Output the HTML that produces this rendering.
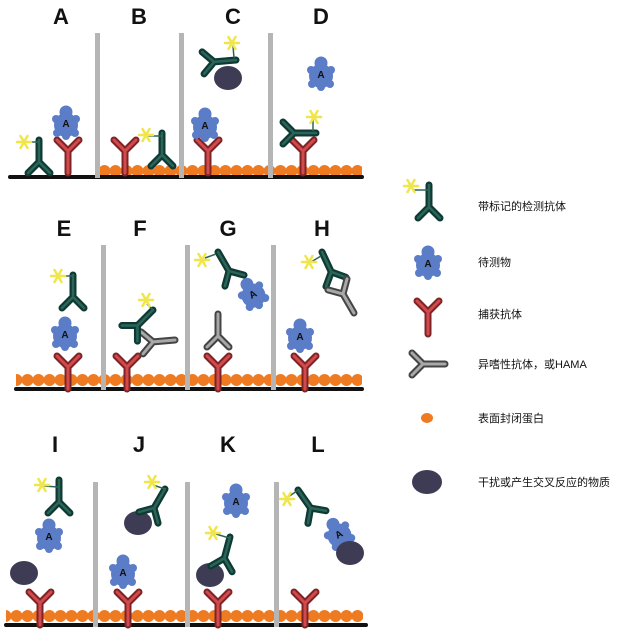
<!DOCTYPE html>
<html><head><meta charset="utf-8"><style>
html,body{margin:0;padding:0;background:#fff}
svg{display:block}
.lt{font-family:"Liberation Sans",sans-serif;font-weight:bold;font-size:22px;fill:#111;text-anchor:middle}
.aa{font-family:"Liberation Sans",sans-serif;font-weight:bold;font-size:10px;fill:#111;text-anchor:middle}
.lg{font-family:"Liberation Sans","Noto Sans CJK SC",sans-serif;font-size:11px;fill:#111}
</style></head><body>
<svg width="637" height="636" viewBox="0 0 637 636" xmlns="http://www.w3.org/2000/svg">
<defs>
<pattern id="bd1" x="0" y="165" width="11" height="12" patternUnits="userSpaceOnUse"><circle cx="5.5" cy="6" r="6" fill="#ee7a22"/></pattern>
<pattern id="bd2" x="0" y="374" width="11" height="12" patternUnits="userSpaceOnUse"><circle cx="5.5" cy="6" r="6" fill="#ee7a22"/></pattern>
<pattern id="bd3" x="0" y="610" width="11" height="12" patternUnits="userSpaceOnUse"><circle cx="5.5" cy="6" r="6" fill="#ee7a22"/></pattern>
<g id="yr"><path d="M0 0V-22M0 -22L-11 -33M0 -22L11 -33" stroke="#7e2426" stroke-width="7" stroke-linecap="round" fill="none"/><path d="M0 0V-22M0 -22L-11 -33M0 -22L11 -33" stroke="#d24a4c" stroke-width="3" stroke-linecap="round" fill="none"/></g>
<g id="yg"><path d="M0 0V-22M0 -22L-11 -33M0 -22L11 -33" stroke="#0f3a33" stroke-width="7" stroke-linecap="round" fill="none"/><path d="M0 0V-22M0 -22L-11 -33M0 -22L11 -33" stroke="#2b6559" stroke-width="2.5" stroke-linecap="round" fill="none"/></g>
<g id="yy"><path d="M0 0V-22M0 -22L-11 -33M0 -22L11 -33" stroke="#444" stroke-width="7" stroke-linecap="round" fill="none"/><path d="M0 0V-22M0 -22L-11 -33M0 -22L11 -33" stroke="#a8a8a8" stroke-width="3" stroke-linecap="round" fill="none"/></g>
<g id="st" stroke="#f0e64a" stroke-width="2.5" stroke-linecap="round"><line x1="-7" y1="0" x2="7" y2="0"/><line x1="-3.5" y1="-6" x2="3.5" y2="6"/><line x1="-3.5" y1="6" x2="3.5" y2="-6"/></g>
<g id="an" fill="#5b7cc6"><circle cx="0" cy="-10" r="6.5"/><circle cx="0" cy="3" r="12"/><circle cx="-10" cy="-3" r="4"/><circle cx="10" cy="-3" r="4"/><circle cx="-9" cy="11" r="4"/><circle cx="9" cy="11" r="4"/><circle cx="0" cy="14" r="4"/></g>
</defs>

<!-- row 1 -->
<text class="lt" x="61" y="24">A</text><text class="lt" x="139" y="24">B</text><text class="lt" x="233" y="24">C</text><text class="lt" x="321" y="24">D</text>
<rect x="100" y="165" width="262" height="12" fill="url(#bd1)"/>
<rect x="8" y="175" width="356" height="4" rx="2" fill="#111"/>
<g fill="#b5b5b5"><rect x="95" y="33" width="5" height="145"/><rect x="179" y="33" width="5" height="145"/><rect x="268" y="33" width="5" height="145"/></g>
<use href="#yg" transform="translate(39,140) rotate(180)"/><line x1="25" y1="142" x2="39" y2="142" stroke="#2b6559" stroke-width="1.5"/><use href="#st" x="24" y="142"/>
<use href="#yr" transform="translate(68,173)"/>
<use href="#an" x="66" y="122"/><text class="aa" x="66" y="127">A</text>
<use href="#yr" transform="translate(125,173)"/>
<use href="#yg" transform="translate(162,133) rotate(180)"/><line x1="147" y1="136" x2="162" y2="136" stroke="#2b6559" stroke-width="1.5"/><use href="#st" x="146" y="135"/>
<use href="#yr" transform="translate(208,173)"/>
<use href="#an" x="205" y="124"/><text class="aa" x="205" y="129">A</text>
<ellipse cx="228" cy="78" rx="14" ry="12" fill="#3e3b55"/>
<use href="#yg" transform="translate(236,60) rotate(-95)"/><line x1="233" y1="46" x2="234" y2="58" stroke="#2b6559" stroke-width="1.5"/><use href="#st" x="232" y="43"/>
<use href="#an" x="321" y="73"/><text class="aa" x="321" y="78">A</text>
<use href="#yr" transform="translate(303,173)"/>
<use href="#yg" transform="translate(316,133) rotate(-90)"/><line x1="313" y1="118" x2="313" y2="131" stroke="#2b6559" stroke-width="1.5"/><use href="#st" x="314" y="117"/>

<!-- row 2 -->
<text class="lt" x="64" y="236">E</text><text class="lt" x="140" y="236">F</text><text class="lt" x="228" y="236">G</text><text class="lt" x="322" y="236">H</text>
<rect x="16" y="374" width="346" height="12" fill="url(#bd2)"/>
<rect x="14" y="387" width="350" height="4" rx="2" fill="#111"/>
<g fill="#b5b5b5"><rect x="101" y="245" width="5" height="145"/><rect x="185" y="245" width="5" height="145"/><rect x="271" y="245" width="5" height="145"/></g>
<use href="#yr" transform="translate(68,389)"/>
<use href="#an" x="65" y="333"/><text class="aa" x="65" y="338">A</text>
<use href="#yg" transform="translate(73,275) rotate(180)"/><line x1="59" y1="276" x2="73" y2="276" stroke="#2b6559" stroke-width="1.5"/><use href="#st" x="58" y="276"/>
<use href="#yr" transform="translate(127,389)"/>
<use href="#yy" transform="translate(175,340) rotate(-95)"/>
<use href="#yg" transform="translate(153,310) rotate(225)"/><line x1="147" y1="304" x2="153" y2="310" stroke="#2b6559" stroke-width="1.5"/><use href="#st" x="146" y="300"/>
<use href="#yr" transform="translate(218,389)"/>
<use href="#yy" transform="translate(218,314) rotate(180)"/>
<use href="#yg" transform="translate(218,252) rotate(150)"/><line x1="205" y1="258" x2="216" y2="254" stroke="#2b6559" stroke-width="1.5"/><use href="#st" x="202" y="260"/>
<g transform="translate(252,293) rotate(-30)"><use href="#an"/><text class="aa" x="0" y="5">A</text></g>
<use href="#yr" transform="translate(305,389)"/>
<use href="#an" x="300" y="335"/><text class="aa" x="300" y="340">A</text>
<use href="#yg" transform="translate(322,252) rotate(155)"/><line x1="311" y1="262" x2="321" y2="256" stroke="#2b6559" stroke-width="1.5"/><use href="#st" x="309" y="262"/>
<use href="#yy" transform="translate(354,313) rotate(-30)"/>

<!-- row 3 -->
<text class="lt" x="55" y="452">I</text><text class="lt" x="139" y="452">J</text><text class="lt" x="228" y="452">K</text><text class="lt" x="318" y="452">L</text>
<rect x="6" y="610" width="357" height="12" fill="url(#bd3)"/>
<rect x="4" y="623" width="364" height="4" rx="2" fill="#111"/>
<g fill="#b5b5b5"><rect x="93" y="482" width="5" height="145"/><rect x="185" y="482" width="5" height="145"/><rect x="274" y="482" width="5" height="145"/></g>
<use href="#yr" transform="translate(40,625)"/>
<ellipse cx="24" cy="573" rx="14" ry="12" fill="#3e3b55"/>
<use href="#an" x="49" y="535"/><text class="aa" x="49" y="540">A</text>
<use href="#yg" transform="translate(59,480) rotate(180)"/><line x1="44" y1="486" x2="58" y2="487" stroke="#2b6559" stroke-width="1.5"/><use href="#st" x="42" y="485"/>
<use href="#yr" transform="translate(128,625)"/>
<use href="#an" x="123" y="571"/><text class="aa" x="123" y="576">A</text>
<ellipse cx="138" cy="523" rx="14" ry="12" fill="#3e3b55"/>
<use href="#yg" transform="translate(165,489) rotate(210)"/><line x1="153" y1="485" x2="165" y2="489" stroke="#2b6559" stroke-width="1.5"/><use href="#st" x="152" y="482"/>
<use href="#yr" transform="translate(218,625)"/>
<ellipse cx="210" cy="575" rx="14" ry="12" fill="#3e3b55"/>
<use href="#yg" transform="translate(230,537) rotate(195)"/><line x1="216" y1="534" x2="229" y2="538" stroke="#2b6559" stroke-width="1.5"/><use href="#st" x="213" y="533"/>
<use href="#an" x="236" y="500"/><text class="aa" x="236" y="505">A</text>
<use href="#yr" transform="translate(305,625)"/>
<use href="#yg" transform="translate(298,490) rotate(145)"/><line x1="288" y1="497" x2="297" y2="491" stroke="#2b6559" stroke-width="1.5"/><use href="#st" x="287" y="499"/>
<g transform="translate(338,533) rotate(-30)"><use href="#an"/><text class="aa" x="0" y="5">A</text></g>
<ellipse cx="350" cy="553" rx="14" ry="12" fill="#3e3b55"/>

<!-- legend -->
<use href="#yg" transform="translate(429,185) rotate(180)"/><line x1="413" y1="190" x2="428" y2="190" stroke="#2b6559" stroke-width="1.5"/><use href="#st" x="411" y="186"/>
<text class="lg" x="478" y="210">带标记的检测抗体</text>
<use href="#an" x="428" y="262"/><text class="aa" x="428" y="267">A</text>
<text class="lg" x="478" y="266">待测物</text>
<use href="#yr" transform="translate(428,334)"/>
<text class="lg" x="478" y="318">捕获抗体</text>
<use href="#yy" transform="translate(445,364) rotate(-90)"/>
<text class="lg" x="478" y="368">异嗜性抗体，或HAMA</text>
<ellipse cx="427" cy="418" rx="6" ry="5" fill="#ee7a22"/>
<text class="lg" x="478" y="422">表面封闭蛋白</text>
<ellipse cx="427" cy="482" rx="15" ry="12" fill="#3e3b55"/>
<text class="lg" x="478" y="486">干扰或产生交叉反应的物质</text>
</svg>
</body></html>
